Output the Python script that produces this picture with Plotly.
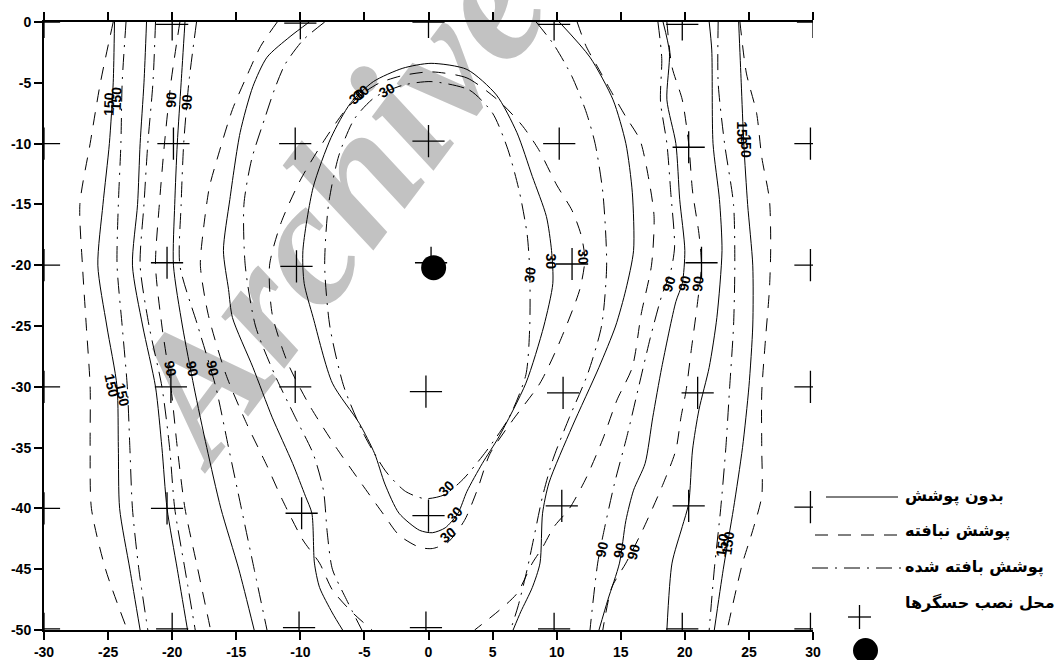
import plotly.graph_objects as go

# ---------------------------------------------------------------------------
# Sensor grid and source location (m)
# ---------------------------------------------------------------------------
SENSOR_X = [-30, -20.0, -10.0, 0.0, 9.8, 19.8, 30,
            -30, -19.9, -10.4, 0.0, 10.2, 20.3, 29.8,
            -30, -20.4, -10.3, 0.2, 11.2, 21.3, 29.8,
            -30, -20.1, -10.4, -0.2, 10.5, 21.0, 29.8,
            -30, -20.4, -9.9, 0.0, 10.4, 20.3, 29.8,
            -30, -20.0, -10.1, -0.2, 9.8, 19.8, 29.8]
SENSOR_Y = [0, -0.2, -0.1, 0.0, -0.2, -0.2, 0,
            -10, -10.0, -10.0, -9.8, -10.0, -10.3, -10,
            -20, -19.8, -20.1, -19.8, -19.9, -19.8, -20,
            -30, -30.0, -30.0, -30.4, -30.5, -30.5, -30,
            -40, -40.0, -40.4, -40.6, -39.8, -39.8, -39.9,
            -49.9, -49.9, -49.8, -49.8, -49.9, -49.9, -49.9]
SOURCE_X = [0.4]
SOURCE_Y = [-20.2]

# Common depth rows used by the near-vertical contour lines
ROWS = [0, -5, -10, -15, -20, -25, -30, -35, -40, -45, -50]

# ---------------------------------------------------------------------------
# Contour lines.  NC = no cover (solid), NW = non-woven cover (dashed),
# WV = woven cover (dash-dot).  Number = contour level.
# ---------------------------------------------------------------------------
# left side, sampled on ROWS
NC150_L_X = [-24.5, -24.6, -24.9, -25.4, -25.8, -25.1, -24.3, -24.2, -24.1, -23.3, -22.5]
NW150_L_X = [-24.6, -25.6, -26.4, -27.2, -27.0, -26.7, -26.4, -26.4, -26.3, -25.2, -23.5]
WV150_L_X = [-23.6, -23.9, -24.0, -24.2, -24.3, -23.9, -23.5, -23.3, -23.1, -22.6, -21.9]
NC120_L_X = [-22.0, -22.2, -22.5, -22.7, -23.1, -22.3, -21.3, -20.8, -20.4, -19.6, -18.8]
WV120_L_X = [-21.3, -21.5, -21.9, -22.2, -22.5, -21.8, -20.8, -20.2, -19.8, -19.0, -18.2]
NW90_L_X = [-19.4, -20.1, -20.6, -21.0, -21.3, -20.8, -20.1, -19.6, -19.0, -18.0, -17.0]
NC90_L_X = [-19.0, -19.3, -19.6, -19.8, -19.9, -19.2, -18.3, -17.3, -16.2, -14.8, -13.6]
WV90_L_X = [-18.1, -18.7, -19.1, -19.3, -19.4, -18.0, -16.6, -15.6, -14.6, -13.6, -12.6]

NW60_L_X = [-11.8, -13.1, -14.2, -15.3, -16.5, -17.1, -17.6, -17.8, -17.2, -15.8, -14.2, -12.6, -11.4, -9.8, -8.5, -7.5, -6.0, -4.4]
NW60_L_Y = [0, -2, -4.5, -7.2, -11.3, -13.6, -17.4, -20, -24, -29, -33, -36.5, -39.3, -42.6, -44.5, -46.7, -48.5, -50]
NC60_L_X = [-9.3, -10.8, -12.6, -13.7, -14.7, -15.5, -16.0, -15.6, -15.3, -13.7, -12.2, -10.6, -9.6, -9.1, -8.9, -8.5, -7.5, -6.7]
NC60_L_Y = [0, -1.2, -2.9, -5.3, -9.1, -14.6, -18.8, -22, -24.3, -28.4, -32.5, -36.3, -39, -40.4, -44.5, -46.5, -48.6, -50]
WV60_L_X = [-8.1, -9.8, -11.2, -12.0, -12.8, -13.8, -14.4, -14.3, -13.5, -12.0, -10.4, -9.0, -8.2, -7.9, -7.5, -6.4, -5.2]
WV60_L_Y = [0, -1.5, -3.5, -5.5, -8, -11.3, -15, -20, -25, -29, -32.5, -35.5, -38.5, -42, -45, -47.5, -50]

# right side
NC150_R_X = [24.2, 24.4, 24.6, 24.9, 25.3, 25.3, 25.0, 24.5, 23.8, 23.0, 22.3]
WV150_R_X = [22.6, 22.6, 23.1, 23.8, 23.9, 23.8, 23.5, 23.2, 22.8, 22.3, 21.9]
NW150_R_X = [24.3, 24.8, 25.6, 26.0, 26.6, 26.7, 26.6, 26.3, 26.0, 26.0, 26.0, 25.3, 24.5, 24.0, 23.3]
NW150_R_Y = [0, -4.2, -7.5, -11.1, -14.6, -18.5, -22, -26, -30.5, -35, -39, -41.8, -44.5, -46.7, -50]
NC120_R_X = [21.9, 22.1, 22.2, 22.7, 22.9, 22.5, 21.9, 21.1, 20.6, 20.3, 19.8, 19.0, 18.6]
NC120_R_Y = [0, -2.3, -10, -14.6, -18.8, -24.3, -28.4, -31.9, -35.2, -39.6, -41.5, -44.5, -50]
NW90_R_X = [18.6, 19.0, 19.8, 20.3, 20.6, 21.1, 21.3, 21.0, 20.5, 20.1, 19.7, 19.3, 18.3, 16.7, 15.4, 14.3, 13.6]
NW90_R_Y = [0, -3.7, -6.4, -10, -13.9, -17.4, -20, -23, -27, -30.3, -32.5, -35.2, -38, -41.8, -44.5, -46.5, -50]
NC90_R_X = [18.3, 18.8, 18.6, 19.3, 19.6, 20.0, 19.8, 19.3, 18.2, 17.5, 16.9, 16.0, 15.4, 14.9, 14.0, 13.3]
NC90_R_Y = [0, -2.5, -6.4, -10, -14.6, -18.8, -21.5, -23, -28.4, -32.5, -36.3, -38.5, -41, -44.5, -47.5, -50]
WV90_R_X = [17.9, 18.2, 18.1, 18.6, 18.9, 19.2, 18.9, 18.2, 17.3, 16.4, 15.5, 14.5, 13.7, 13.2, 12.6]
WV90_R_Y = [0, -3, -6.5, -10, -14, -18.5, -20.5, -22.5, -26, -30, -34, -38, -41.8, -44.5, -50]

NW60_R_X = [11.6, 12.3, 13.3, 14.3, 15.4, 16.5, 17.2, 17.6, 17.4, 16.6, 15.9, 14.7, 13.6, 12.3, 11.0, 9.8, 8.9, 8.1, 6.9, 5.5, 3.6]
NW60_R_Y = [0, -2, -3.9, -5.8, -7.8, -9.7, -13, -16, -20, -24, -28.4, -31.1, -34.3, -37.5, -40, -41.5, -43.2, -44.5, -47, -48.4, -50]
NC60_R_X = [10.2, 12.6, 14.4, 15.4, 15.9, 16.0, 15.4, 14.6, 13.3, 11.2, 9.4, 8.9, 8.7, 8.1, 7.2, 6.6]
NC60_R_Y = [0, -2.9, -6.4, -10, -14, -18.8, -22, -25, -28.4, -33.3, -37.9, -40.4, -44.5, -46.5, -48.5, -50]
WV60_R_X = [8.4, 9.8, 11.2, 12.3, 13.0, 13.6, 13.9, 13.5, 12.4, 11.0, 9.7, 8.9, 8.3, 7.7, 7.0, 6.4]
WV60_R_Y = [0, -1.9, -4.5, -7.4, -10, -14, -20, -25, -29, -32.5, -36, -39, -42, -45, -48, -50]

# closed 30 contours around the source
NC30_X = [0.2, 3.0, 5.3, 6.9, 8.1, 9.2, 9.6, 9.7, 9.0, 7.6, 5.5, 4.2, 3.0, 2.3, 1.3, 0.3, -0.7, -2.3,
          -3.4, -4.2, -5.4, -7.5, -9.0, -9.7, -9.8, -9.0, -7.6, -6.1, -4.3, -2.0, 0.2]
NC30_Y = [-3.4, -3.9, -6.0, -9.1, -12.7, -16.0, -18.8, -21.5, -25.0, -29.7, -34.1, -36.3, -38.6, -40.4,
          -41.6, -42.0, -41.8, -40.4, -38.0, -35.5, -33.0, -29.7, -24.3, -21.5, -18.8, -13.6, -9.5, -6.7,
          -4.9, -3.8, -3.4]
WV30_X = [0.2, 3.2, 5.0, 6.2, 7.1, 7.7, 7.9, 7.9, 7.6, 6.3, 4.5, 2.7, 1.2, -0.3, -1.8, -3.3, -5.0,
          -6.6, -7.7, -8.1, -7.8, -7.0, -5.8, -4.2, -2.0, 0.2]
WV30_Y = [-4.9, -5.6, -7.5, -10.5, -14.0, -17.5, -20.5, -25.0, -29.0, -32.5, -35.3, -37.6, -38.9, -39.2,
          -38.6, -37.0, -34.0, -30.0, -25.0, -20.0, -15.0, -11.0, -8.0, -6.2, -5.2, -4.9]
NW30_X = [0.2, 3.0, 5.5, 7.3, 8.6, 10.0, 11.2, 11.9, 12.2, 11.8, 10.2, 8.7, 6.6, 4.8, 3.8, 2.8, 1.5,
          0.3, -0.7, -2.3, -3.5, -5.2, -7.2, -9.3, -11.0, -12.2, -12.4, -11.5, -10.0, -8.3, -6.6, -5.3,
          -3.8, -2.0, 0.2]
NW30_Y = [-4.1, -4.6, -6.5, -8.5, -10.5, -13.4, -15.5, -17.5, -19.5, -22.0, -26.4, -29.7, -32.7, -35.5,
          -38.5, -41.0, -42.8, -43.3, -43.2, -42.2, -40.5, -38.0, -35.0, -31.5, -28.0, -24.0, -20.0,
          -16.5, -13.0, -10.0, -7.4, -6.0, -5.0, -4.4, -4.1]

# Contour labels: level, position and text angle
LABEL_LEVEL = [150, 150, 90, 90, 150, 150, 90, 90, 90,
               150, 150, 90, 90, 90, 90, 90, 90, 150, 150,
               30, 30, 30, 30, 30, 30, 30, 30, 30]
LABEL_X = [-24.9, -24.4, -20.1, -18.85, -24.7, -23.9, -20.1, -18.4, -16.8,
           24.5, 24.75, 18.8, 20.0, 21.05, 13.5, 14.9, 16.0, 22.9, 23.4,
           -5.55, -5.3, -3.2, 7.9, 9.6, 12.1, 1.4, 2.1, 1.5]
LABEL_Y = [-6.7, -6.3, -6.4, -6.6, -29.9, -30.7, -28.5, -28.5, -28.5,
           -9.1, -10.2, -21.5, -21.5, -21.5, -43.4, -43.4, -43.6, -43.0, -42.8,
           -6.1, -5.8, -5.6, -20.8, -19.65, -19.3, -38.3, -40.5, -42.2]
LABEL_ANGLE = [-88, -88, -88, -88, 78, 78, 78, 78, 78,
               90, 90, -72, -78, -82, -78, -78, -75, -82, -82,
               -40, -40, -30, -82, 90, 88, -45, -50, -40]

X_TICKS = [-30, -25, -20, -15, -10, -5, 0, 5, 10, 15, 20, 25, 30]
Y_TICKS = [0, -5, -10, -15, -20, -25, -30, -35, -40, -45, -50]

LEGEND_TEXT = ["بدون پوشش", "پوشش نبافته", "پوشش بافته شده", "محل نصب حسگرها"]

DASH_NC = "solid"
DASH_NW = "13px,10px"
DASH_WV = "16px,7px,2px,7px"

fig = go.Figure()


def add_line(xs, ys, dash):
    fig.add_trace(go.Scatter(
        x=xs, y=ys, mode="lines", hoverinfo="skip", showlegend=False,
        line=dict(color="black", width=1, dash=dash, shape="spline", smoothing=0.7)))


# left-hand groups
add_line(NW150_L_X, ROWS, DASH_NW)
add_line(NC150_L_X, ROWS, DASH_NC)
add_line(WV150_L_X, ROWS, DASH_WV)
add_line(NC120_L_X, ROWS, DASH_NC)
add_line(WV120_L_X, ROWS, DASH_WV)
add_line(NW90_L_X, ROWS, DASH_NW)
add_line(NC90_L_X, ROWS, DASH_NC)
add_line(WV90_L_X, ROWS, DASH_WV)
add_line(NW60_L_X, NW60_L_Y, DASH_NW)
add_line(NC60_L_X, NC60_L_Y, DASH_NC)
add_line(WV60_L_X, WV60_L_Y, DASH_WV)
# right-hand groups
add_line(NC150_R_X, ROWS, DASH_NC)
add_line(WV150_R_X, ROWS, DASH_WV)
add_line(NW150_R_X, NW150_R_Y, DASH_NW)
add_line(NC120_R_X, NC120_R_Y, DASH_NC)
add_line(NW90_R_X, NW90_R_Y, DASH_NW)
add_line(NC90_R_X, NC90_R_Y, DASH_NC)
add_line(WV90_R_X, WV90_R_Y, DASH_WV)
add_line(NW60_R_X, NW60_R_Y, DASH_NW)
add_line(NC60_R_X, NC60_R_Y, DASH_NC)
add_line(WV60_R_X, WV60_R_Y, DASH_WV)
# closed loops around the source
add_line(NC30_X, NC30_Y, DASH_NC)
add_line(WV30_X, WV30_Y, DASH_WV)
add_line(NW30_X, NW30_Y, DASH_NW)

# sensors and source
fig.add_trace(go.Scatter(
    x=SENSOR_X, y=SENSOR_Y, mode="markers", hoverinfo="skip", showlegend=False,
    cliponaxis=True,
    marker=dict(symbol="cross-thin", size=23, color="black",
                line=dict(width=1.3, color="black"))))
fig.add_trace(go.Scatter(
    x=SOURCE_X, y=SOURCE_Y, mode="markers", hoverinfo="skip", showlegend=False,
    marker=dict(symbol="circle", size=25, color="black")))

# contour labels
for lev, lx, ly, ang in zip(LABEL_LEVEL, LABEL_X, LABEL_Y, LABEL_ANGLE):
    fig.add_annotation(
        x=lx, y=ly, xref="x", yref="y", text=str(lev), showarrow=False,
        textangle=ang, borderpad=0,
        font=dict(family="Liberation Sans, Arial", size=14, color="black", weight="bold"))

# ---------------------------------------------------------------------------
# Layout geometry (pixels) used for the side key
# ---------------------------------------------------------------------------
W, H = 1059, 660
ML, MR, MT, MB = 44, 246, 22, 30
PW = W - ML - MR
PH = H - MT - MB


def px(xp):
    return (xp - ML) / PW


def py(yp):
    return (H - MB - yp) / PH


shapes = []
# key line samples
shapes.append(dict(type="line", xref="paper", yref="paper", x0=px(826), x1=px(898),
                   y0=py(497), y1=py(497), line=dict(color="black", width=1, dash=DASH_NC)))
shapes.append(dict(type="line", xref="paper", yref="paper", x0=px(815), x1=px(900),
                   y0=py(535), y1=py(535), line=dict(color="black", width=1, dash=DASH_NW)))
shapes.append(dict(type="line", xref="paper", yref="paper", x0=px(812), x1=px(905),
                   y0=py(568), y1=py(568), line=dict(color="black", width=1, dash=DASH_WV)))
# key sensor symbol
shapes.append(dict(type="line", xref="paper", yref="paper", x0=px(848), x1=px(871),
                   y0=py(617), y1=py(617), line=dict(color="black", width=1.3)))
shapes.append(dict(type="line", xref="paper", yref="paper", x0=px(859.5), x1=px(859.5),
                   y0=py(605), y1=py(629), line=dict(color="black", width=1.3)))
# key source symbol
shapes.append(dict(type="circle", xref="paper", yref="paper", x0=px(853), x1=px(878),
                   y0=py(638), y1=py(663), fillcolor="black", line=dict(color="black", width=0)))
# background watermark lettering
shapes.append(dict(type="line", xref="paper", yref="paper", layer="below",
                   x0=px(166), y0=py(387), x1=px(474), y1=py(-7),
                   line=dict(color="rgba(0,0,0,0)", width=1),
                   label=dict(text="<b><i>Archive</i></b>", textangle=-53,
                              textposition="middle", xanchor="center", yanchor="middle",
                              font=dict(family="Liberation Serif", size=178, color="#c2c2c2"))))

key_rows = [496, 531, 567, 602]
for txt, yy in zip(LEGEND_TEXT, key_rows):
    fig.add_annotation(x=px(903), y=py(yy), xref="paper", yref="paper", text=txt,
                       showarrow=False, xanchor="left", yanchor="middle",
                       font=dict(family="DejaVu Sans", size=16, color="black", weight="bold"))

tick_font = dict(family="Liberation Sans, Arial", size=14, color="black", weight="bold")
fig.update_layout(
    width=W, height=H, autosize=False,
    margin=dict(l=ML, r=MR, t=MT, b=MB, pad=0, autoexpand=False),
    paper_bgcolor="white", plot_bgcolor="white",
    shapes=shapes,
    showlegend=False,
    xaxis=dict(range=[-30, 30], tickvals=X_TICKS, ticktext=[str(v) for v in X_TICKS],
               showgrid=False, zeroline=False, showline=True, linecolor="black", linewidth=2,
               mirror="ticks", ticks="outside", ticklen=8, tickwidth=1.5, tickcolor="black",
               tickfont=tick_font, automargin=False),
    yaxis=dict(range=[-50, 0], tickvals=Y_TICKS, ticktext=[str(v) for v in Y_TICKS],
               showgrid=False, zeroline=False, showline=True, linecolor="black", linewidth=2,
               ticks="outside", ticklen=8, tickwidth=1.5, tickcolor="black",
               tickfont=tick_font, automargin=False),
    yaxis2=dict(range=[-50, 0], tickvals=Y_TICKS, overlaying="y", side="right", anchor="x",
                showgrid=False, zeroline=False, showline=True, linecolor="black", linewidth=2,
                ticks="inside", ticklen=8, tickwidth=1.5, tickcolor="black",
                showticklabels=False, automargin=False),
)

fig.write_html("out.html")
